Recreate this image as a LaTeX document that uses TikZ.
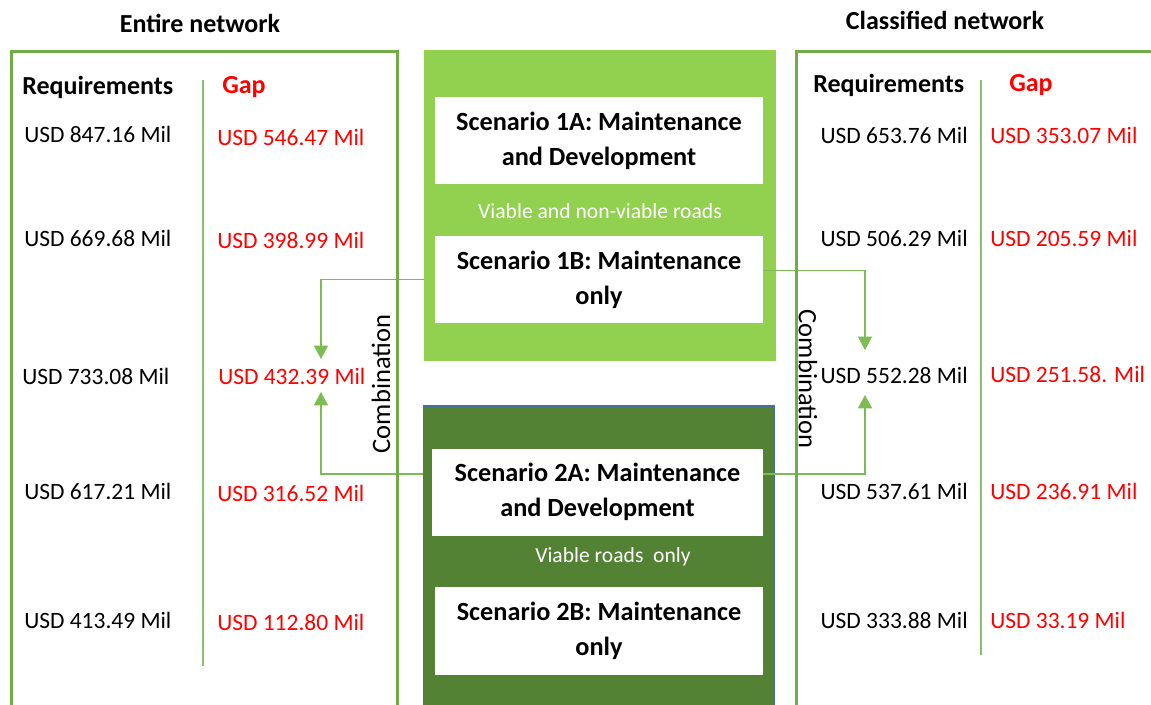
\documentclass[tikz,border=0pt]{standalone}
\usepackage{fontspec}
\setmainfont{Carlito}
\usetikzlibrary{arrows.meta}
\definecolor{bordergreen}{HTML}{70AD47}
\definecolor{divgreen}{HTML}{8CC068}
\definecolor{conngreen}{HTML}{7DBB55}
\definecolor{gapred}{HTML}{FF0000}
\definecolor{lightbox}{HTML}{92D050}
\definecolor{darkbox}{HTML}{548235}
\definecolor{darkborder}{HTML}{41719C}
\tikzset{
  val/.style={font=\fontsize{17.6}{20}\selectfont, inner sep=0pt},
  gapval/.style={val, text=gapred},
  head/.style={font=\bfseries\fontsize{19.5}{22}\selectfont, inner sep=0pt},
  gaphead/.style={head, text=gapred},
  scen/.style={fill=white, draw=none, align=center, inner sep=0pt,
    font=\bfseries\fontsize{19.7}{26.25}\selectfont},
  frame/.style={draw=bordergreen, line width=2.4pt},
  divider/.style={draw=divgreen, line width=1.1pt},
  conn/.style={draw=conngreen, line width=1pt, -{Triangle[width=10.5pt,length=10pt]}},
  note/.style={text=white, font=\fontsize{16.2}{18}\selectfont, inner sep=0pt},
  comb/.style={font=\fontsize{19.9}{22}\selectfont, inner sep=0pt},
}
\begin{document}
\begin{tikzpicture}[x=0.75pt,y=-0.75pt]
\clip (0,0) rectangle (1151,704);
\fill[white] (0,0) rectangle (1151,704);
% middle boxes
\node (top) [fill=lightbox, draw=none, minimum width=264pt, minimum height=233.25pt, inner sep=0pt] at (600,205.5) {};
\node (bot) [fill=darkbox, draw=darkborder, line width=1.2pt, minimum width=263pt, minimum height=240pt, inner sep=0pt] at (599,566) {};
\node (s1a) [scen, minimum width=246pt, minimum height=65.25pt] at (599,140.5) {Scenario 1A: Maintenance\\and Development};
\node (s1b) [scen, minimum width=246pt, minimum height=65.25pt] at (599,279.5) {Scenario 1B: Maintenance\\only};
\node (s2a) [scen, minimum width=248.25pt, minimum height=65.25pt] at (597.5,492) {Scenario 2A: Maintenance\\and Development};
\node (s2b) [scen, minimum width=246pt, minimum height=66pt] at (599,631) {Scenario 2B: Maintenance\\only};
\node (n1) [note] at (600,211) {Viable and non-viable roads};
\node (n2) [note] at (613,557) {Viable roads\ \ only};
% connector targets
\coordinate (aL1) at (321,359);
\coordinate (aL2) at (321,392);
\coordinate (aR1) at (865,350);
\coordinate (aR2) at (865,395);
\draw[conn] (top.west |- s1b.west) -| (aL1);
\draw[conn] ([yshift=13.5pt]bot.west |- s2a.west) -| (aL2);
\draw[conn] ([yshift=7pt]s1b.east) -| (aR1);
\draw[conn] ([yshift=13.5pt]s2a.east) -| (aR2);
% frames
\node (leftframe) [frame, minimum width=289.5pt, minimum height=502.5pt, inner sep=0pt, anchor=north west] at (10,50) {};
\node (rightframe) [frame, minimum width=281.25pt, minimum height=502.5pt, inner sep=0pt, anchor=north west] at (795,50) {};
\draw[divider] (203,80) -- (203,666);
\draw[divider] (981,80) -- (981,655);
% titles
\node (t1) [head] at (200,23) {Entire network};
\node (t2) [head] at (945,20) {Classified network};
\node (rq1) [head, anchor=west] at (22,87) {Requirements};
\node (gp1) [gaphead, anchor=west] at (222,87) {Gap};
\node (rq2) [head, anchor=west] at (813,85) {Requirements};
\node (gp2) [gaphead, anchor=west] at (1009,85) {Gap};
% left values
\node (lv1) [val, anchor=west] at (24,134) {USD 847.16 Mil};
\node (lv2) [val, anchor=west] at (24,238) {USD 669.68 Mil};
\node (lv3) [val, anchor=west] at (22,376) {USD 733.08 Mil};
\node (lv4) [val, anchor=west] at (24,491) {USD 617.21 Mil};
\node (lv5) [val, anchor=west] at (24,620) {USD 413.49 Mil};
\node (lg1) [gapval, anchor=west] at (217,137) {USD 546.47 Mil};
\node (lg2) [gapval, anchor=west] at (217,240) {USD 398.99 Mil};
\node (lg3) [gapval, anchor=west] at (218,376) {USD 432.39 Mil};
\node (lg4) [gapval, anchor=west] at (217,493) {USD 316.52 Mil};
\node (lg5) [gapval, anchor=west] at (217,622) {USD 112.80 Mil};
% right values
\node (rv1) [val, anchor=east] at (968,135) {USD 653.76 Mil};
\node (rv2) [val, anchor=east] at (968,238) {USD 506.29 Mil};
\node (rv3) [val, anchor=east] at (968,375) {USD 552.28 Mil};
\node (rv4) [val, anchor=east] at (968,491) {USD 537.61 Mil};
\node (rv5) [val, anchor=east] at (968,620) {USD 333.88 Mil};
\node (rg1) [gapval, anchor=west] at (990,135) {USD 353.07 Mil};
\node (rg2) [gapval, anchor=west] at (990,238) {USD 205.59 Mil};
\node (rg3) [gapval, anchor=west] at (990,374) {USD 251.58. Mil};
\node (rg4) [gapval, anchor=west] at (990,491) {USD 236.91 Mil};
\node (rg5) [gapval, anchor=west] at (990,620) {USD 33.19 Mil};
% combination labels
\node (c1) [comb, rotate=90] at (381,384) {Combination};
\node (c2) [comb, rotate=-90] at (808,379) {Combination};
\end{tikzpicture}
\end{document}
